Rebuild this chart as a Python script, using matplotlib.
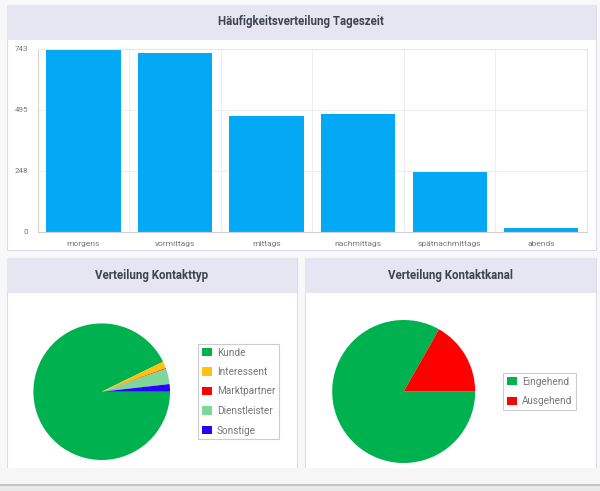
import numpy as np
import matplotlib
matplotlib.use("Agg")
import matplotlib.pyplot as plt
from matplotlib.patches import Rectangle

plt.rcParams["font.family"] = ["Roboto", "DejaVu Sans"]

# Daten
tageszeit = ["morgens", "vormittags", "mittags", "nachmittags", "spätnachmittags", "abends"]
anzahl = [743, 727, 471, 478, 241, 14]
y_ticks = [0, 248, 495, 743]

kontakttyp = ["Kunde", "Interessent", "Marktpartner", "Dienstleister", "Sonstige"]
kontakttyp_werte = [1040, 18, 2, 41, 20]
kontakttyp_farben = ["#00b14f", "#ffc20e", "#ff0000", "#7dd69a", "#2a00ff"]

kontaktkanal = ["Eingehend", "Ausgehend"]
kontaktkanal_werte = [2225, 449]
kontaktkanal_farben = ["#00b14f", "#ff0000"]

W, H = 600, 491
fig = plt.figure(figsize=(W / 100, H / 100), dpi=100)
fig.patch.set_facecolor("#f8f8fa")


def box(x0, y0, x1, y1):
    # Pixel (oben links) -> Figure-Koordinaten
    return [x0 / W, 1 - y1 / H, (x1 - x0) / W, (y1 - y0) / H]


def karte(x0, y0, x1, y1, titel, tx, ty):
    fig.patches.append(Rectangle((x0 / W, 1 - y1 / H), (x1 - x0) / W, (y1 - y0) / H,
                                 transform=fig.transFigure, facecolor="white",
                                 edgecolor="#dcdce2", lw=0.8, zorder=-2))
    fig.patches.append(Rectangle((x0 / W, 1 - (y0 + 35) / H), (x1 - x0) / W, 35 / H,
                                 transform=fig.transFigure, facecolor="#e6e6f2",
                                 edgecolor="none", zorder=-1))
    fig.text(tx / W, 1 - ty / H, titel, ha="center", va="center", fontsize=8.3,
             fontweight="bold", color="#3d4350")


karte(7, 5, 596, 250, "Häufigkeitsverteilung Tageszeit", 301, 22)
karte(7, 258, 297, 472, "Verteilung Kontakttyp", 152, 275)
karte(305, 258, 596, 472, "Verteilung Kontaktkanal", 450, 275)

# Balkendiagramm
ax = fig.add_axes(box(37.7, 48.7, 587, 231.7))
x = np.arange(len(tageszeit))
ax.bar(x, anzahl, width=0.81, color="#03a9f4", zorder=2)
ax.set_xlim(-0.5, len(tageszeit) - 0.5)
ax.set_ylim(0, 743)
ax.set_yticks(y_ticks)
ax.set_yticklabels([str(v) for v in y_ticks])
ax.set_xticks(x)
ax.set_xticklabels(tageszeit)
ax.set_xticks(x[:-1] + 0.5, minor=True)
ax.grid(axis="y", color="#eeeeee", lw=0.8, zorder=0)
ax.grid(axis="x", which="minor", color="#eeeeee", lw=0.8, zorder=0)
ax.tick_params(axis="both", which="both", length=0, labelsize=6, colors="#777777")
ax.tick_params(axis="y", pad=7, labelsize=5.8)
ax.tick_params(axis="x", pad=7)
for s in ax.spines.values():
    s.set_color("#e6e6e6")
    s.set_linewidth(0.8)
ax.spines["left"].set_color("#d8d4cc")
ax.spines["bottom"].set_color("#d0d0d0")

# Kreisdiagramm Kontakttyp
r1 = 68.3
ax1 = fig.add_axes(box(101.7 - r1, 391.7 - r1, 101.7 + r1, 391.7 + r1))
w1, _ = ax1.pie(kontakttyp_werte, colors=kontakttyp_farben, startangle=0,
                counterclock=False, radius=1)
ax1.set_xlim(-1, 1)
ax1.set_ylim(-1, 1)
ax1.set_axis_off()
leg1 = ax1.legend(w1, kontakttyp, loc="center left", bbox_to_anchor=(198 / W, 1 - 391.5 / H),
                  bbox_transform=fig.transFigure, fontsize=7.2, labelcolor="#777777",
                  frameon=True, fancybox=False, edgecolor="#cccccc", framealpha=1,
                  handlelength=1.0, handleheight=0.9, labelspacing=0.95, handletextpad=0.55,
                  borderpad=0.35, borderaxespad=0)
leg1.get_frame().set_linewidth(0.8)

# Kreisdiagramm Kontaktkanal
r2 = 71.5
ax2 = fig.add_axes(box(403.7 - r2, 391.5 - r2, 403.7 + r2, 391.5 + r2))
w2, _ = ax2.pie(kontaktkanal_werte, colors=kontaktkanal_farben, startangle=0,
                counterclock=False, radius=1)
ax2.set_xlim(-1, 1)
ax2.set_ylim(-1, 1)
ax2.set_axis_off()
leg2 = ax2.legend(w2, kontaktkanal, loc="center left", bbox_to_anchor=(503 / W, 1 - 391.5 / H),
                  bbox_transform=fig.transFigure, fontsize=7.2, labelcolor="#777777",
                  frameon=True, fancybox=False, edgecolor="#cccccc", framealpha=1,
                  handlelength=1.0, handleheight=0.9, labelspacing=0.95, handletextpad=0.55,
                  borderpad=0.35, borderaxespad=0)
leg2.get_frame().set_linewidth(0.8)

# unterer Rand (abgeschnittene Seite)
fig.patches.append(Rectangle((0, 0), 1, (H - 468) / H, transform=fig.transFigure,
                             facecolor="#f6f6f6", edgecolor="none", zorder=-0.5))
fig.patches.append(Rectangle((0, 0), 1, (H - 484) / H, transform=fig.transFigure,
                             facecolor="#e9e9e9", edgecolor="none", zorder=-0.4))
fig.patches.append(Rectangle((0, (H - 486) / H), 1, 2 / H, transform=fig.transFigure,
                             facecolor="#c4c4c4", edgecolor="none", zorder=-0.3))

fig.savefig("out.png", dpi=100, facecolor=fig.get_facecolor())
